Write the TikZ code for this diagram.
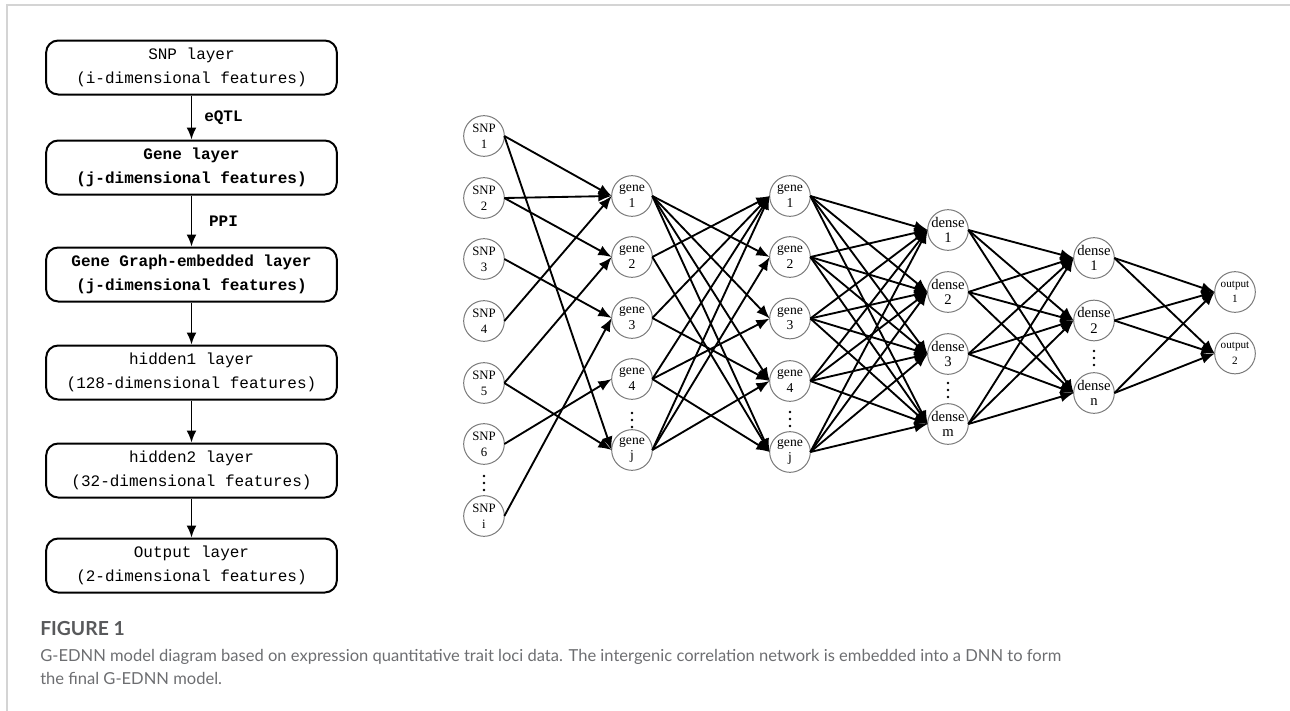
\documentclass[tikz,border=0pt]{standalone}
\usepackage{fontspec}
\setmainfont{Liberation Serif}
\newfontfamily\flowfont{Liberation Mono}
\newfontfamily\capfont{Lato}
\usetikzlibrary{arrows.meta}
\definecolor{circgray}{HTML}{7A7A7A}
\definecolor{framegray}{HTML}{D4D4D4}
\definecolor{capdark}{HTML}{58595B}
\definecolor{captext}{HTML}{6D6E71}
\begin{document}
\begin{tikzpicture}[x=0.75pt,y=-0.75pt,
  fbox/.style={draw, line width=1.5pt, rounded corners=9pt, minimum width=218pt,
    minimum height=40.5pt, align=center, inner sep=0pt,
    font=\flowfont\fontsize{12}{18.5}\selectfont},
  fboxb/.style={fbox, font=\flowfont\bfseries\fontsize{12}{18.5}\selectfont},
  farrow/.style={-{Latex[length=9pt,width=7.5pt]}, line width=1.3pt},
  flbl/.style={font=\flowfont\bfseries\fontsize{12}{14}\selectfont, inner sep=0pt},
  neur/.style={circle, draw=circgray, line width=0.75pt, minimum size=30.5pt,
    inner sep=0pt, outer sep=0pt},
  conn/.style={-{Latex[length=10pt,width=8pt]}, line width=1.4pt},
  snpl/.style={align=center, inner sep=0pt, font=\fontsize{9.6}{11.8}\selectfont},
  genel/.style={align=center, inner sep=0pt, font=\fontsize{10.2}{11.8}\selectfont},
  densel/.style={align=center, inner sep=0pt, font=\fontsize{11}{11.8}\selectfont},
  outl/.style={align=center, inner sep=0pt, font=\fontsize{8.4}{11.5}\selectfont},
  capbold/.style={anchor=base west, inner sep=0pt, text=capdark,
    font=\capfont\bfseries\fontsize{14.5}{16}\selectfont},
  captxt/.style={anchor=base west, inner sep=0pt, text=captext,
    font=\capfont\fontsize{12.4}{15}\selectfont}
]
\useasboundingbox (0,0) rectangle (1290,711);
% frame
\draw[framegray, line width=1.1pt] (7,711) -- (7,5) -- (1290,5);

% flowchart
\node[fbox]  (b1) at (191.5,67.5)  {SNP layer\\(i-dimensional features)};
\node[fboxb] (b2) at (191.5,167.5) {Gene layer\\(j-dimensional features)};
\node[fboxb] (b3) at (191.5,274.5) {Gene Graph-embedded layer\\(j-dimensional features)};
\node[fbox]  (b4) at (191.5,372.5) {hidden1 layer\\(128-dimensional features)};
\node[fbox]  (b5) at (191.5,470.5) {hidden2 layer\\(32-dimensional features)};
\node[fbox]  (b6) at (191.5,565.5) {Output layer\\(2-dimensional features)};
\draw[farrow] (b1) -- (b2) node[flbl, midway, xshift=24pt] (lq) {eQTL};
\draw[farrow] (b2) -- (b3) node[flbl, midway, xshift=24pt] (lp) {PPI};
\draw[farrow] (b3) -- (b4);
\draw[farrow] (b4) -- (b5);
\draw[farrow] (b5) -- (b6);

% SNP layer
\node[neur, label={[snpl]center:SNP\\1}] (s1) at (484,136) {};
\node[neur, label={[snpl]center:SNP\\2}] (s2) at (484,198) {};
\node[neur, label={[snpl]center:SNP\\3}] (s3) at (484,259) {};
\node[neur, label={[snpl]center:SNP\\4}] (s4) at (484,321) {};
\node[neur, label={[snpl]center:SNP\\5}] (s5) at (484,383) {};
\node[neur, label={[snpl]center:SNP\\6}] (s6) at (484,444) {};
\node[neur, label={[snpl]center:SNP\\i}] (si) at (484,516) {};
% gene layer
\node[neur, label={[genel]center:gene\\1}] (g1) at (632,196) {};
\node[neur, label={[genel]center:gene\\2}] (g2) at (632,257) {};
\node[neur, label={[genel]center:gene\\3}] (g3) at (632,318) {};
\node[neur, label={[genel]center:gene\\4}] (g4) at (632,379) {};
\node[neur, label={[genel]center:gene\\j}] (gj) at (632,450) {};
% gene graph-embedded layer
\node[neur, label={[genel]center:gene\\1}] (h1) at (790,196) {};
\node[neur, label={[genel]center:gene\\2}] (h2) at (790,257) {};
\node[neur, label={[genel]center:gene\\3}] (h3) at (790,318.5) {};
\node[neur, label={[genel]center:gene\\4}] (h4) at (790,381) {};
\node[neur, label={[genel]center:gene\\j}] (hj) at (790,452) {};
% dense 1
\node[neur, label={[densel]center:dense\\1}] (d1) at (948,230) {};
\node[neur, label={[densel]center:dense\\2}] (d2) at (948,292) {};
\node[neur, label={[densel]center:dense\\3}] (d3) at (948,354) {};
\node[neur, label={[densel]center:dense\\m}] (dm) at (948,424) {};
% dense 2
\node[neur, label={[densel]center:dense\\1}] (e1) at (1094,258) {};
\node[neur, label={[densel]center:dense\\2}] (e2) at (1094,320.5) {};
\node[neur, label={[densel]center:dense\\n}] (en) at (1094,393) {};
% output
\node[neur, label={[outl]center:output\\1}] (o1) at (1235,292) {};
\node[neur, label={[outl]center:output\\2}] (o2) at (1235,353.5) {};

% dots
\foreach \cx/\cy in {484/483, 632/420, 790/419, 948/390, 1094/358}
  \foreach \k in {-1,0,1}
    \fill (\cx,\cy+\k*7) circle (1.05pt);

% connections
\foreach \a/\b in {s1/g1, s1/gj, s2/g1, s2/g2, s3/g3, s4/g1, s5/g2, s5/gj, s6/g4, si/g3}
  \draw[conn] (\a.east) -- (\b.west);
\foreach \a/\b in {g1/h2, g1/h3, g1/h4, g1/hj, g2/h1, g2/hj, g3/h1, g3/h4,
                   g4/h1, g4/h3, g4/hj, gj/h1, gj/h2, gj/h4}
  \draw[conn] (\a.east) -- (\b.west);
\foreach \a in {h1,h2,h3,h4,hj}
  \foreach \b in {d1,d2,d3,dm}
    \draw[conn] (\a.east) -- (\b.west);
\foreach \a in {d1,d2,d3,dm}
  \foreach \b in {e1,e2,en}
    \draw[conn] (\a.east) -- (\b.west);
\foreach \a in {e1,e2,en}
  \foreach \b in {o1,o2}
    \draw[conn] (\a.east) -- (\b.west);

% caption
\node[capbold] (fig) at (40,635) {FIGURE 1};
\node[captxt] (cap1) at (40,661) {G-EDNN model diagram based on expression quantitative trait loci data. The intergenic correlation network is embedded into a DNN to form};
\node[captxt] (cap2) at (40,684) {the final G-EDNN model.};
\end{tikzpicture}
\end{document}
